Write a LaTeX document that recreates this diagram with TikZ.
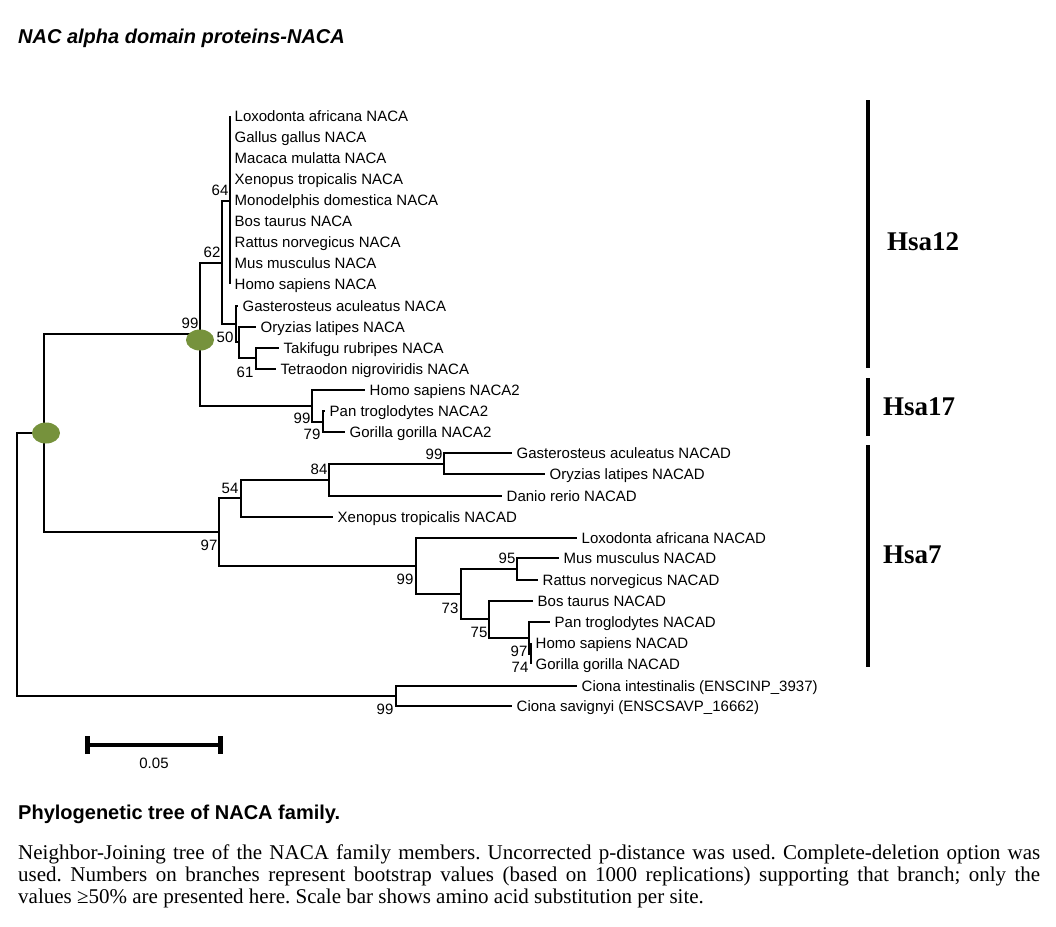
\documentclass[tikz,border=0pt]{standalone}
\usepackage{fontspec}
\setmainfont{Liberation Serif}
\setsansfont{Liberation Sans}
\usepackage{tikz}
\usetikzlibrary{shapes.geometric, arrows.meta, positioning}
\definecolor{hubgreen}{HTML}{76923C}
\newcommand{\leaffont}{\sffamily\fontsize{15}{18}\selectfont}
\tikzset{
    branch/.style = {line width=1.5pt, draw=black},
    leaf/.style = {anchor=west, inner xsep=4.5pt, inner ysep=0pt, text height=11pt, text depth=0pt, font=\leaffont},
    boot/.style = {inner sep=0pt, font=\leaffont},
    hub/.style = {ellipse, fill=hubgreen, minimum width=28pt, minimum height=21pt, inner sep=0pt},
    group/.style = {line width=4pt, draw=black},
    grouplabel/.style = {anchor=west, inner sep=0pt, font=\rmfamily\bfseries\fontsize{27}{30}\selectfont},
    scalebar/.style = {line width=4pt, {Bar[width=18pt, line width=5pt]}-{Bar[width=18pt, line width=5pt]}},
    heading/.style = {anchor=base west, inner sep=0pt, font=\sffamily\bfseries\fontsize{20}{24}\selectfont}
}

\begin{document}
\begin{tikzpicture}[x=1pt, y=-1pt]
        \useasboundingbox (0,0) rectangle (1056,926);

        % Title
        \node (title) [heading, font=\sffamily\bfseries\itshape\fontsize{20}{24}\selectfont] at (18,43) {NAC alpha domain proteins-NACA};

        % Inner nodes of the tree
        \coordinate (root) at (17,564);
        \coordinate (n_a) at (44,433);
        \coordinate (n_b) at (200,334);
        \coordinate (n62) at (222,263);
        \coordinate (n64) at (230,201);
        \coordinate (n50) at (236,324);
        \coordinate (n50b) at (239,342);
        \coordinate (n61) at (256,358);
        \coordinate (n99_naca2) at (312,406);
        \coordinate (n79) at (323,422);
        \coordinate (n97) at (219,532);
        \coordinate (n54) at (241,498);
        \coordinate (n84) at (329,480);
        \coordinate (n99_fish) at (444,464);
        \coordinate (n99_mamm) at (416,566);
        \coordinate (n73) at (461,594);
        \coordinate (n95) at (517,569);
        \coordinate (n75) at (489,619);
        \coordinate (n97b) at (529,638);
        \coordinate (n74) at (531,654);
        \coordinate (n99_ciona) at (396,696);

        % Leaves: NACA (Hsa12)
        \node (loxo_naca) [leaf] at (230,116) {Loxodonta africana NACA};
        \node (gallus_naca) [leaf] at (230,137) {Gallus gallus NACA};
        \node (macaca_naca) [leaf] at (230,158) {Macaca mulatta NACA};
        \node (xeno_naca) [leaf] at (230,179) {Xenopus tropicalis NACA};
        \node (mono_naca) [leaf] at (230,200) {Monodelphis domestica NACA};
        \node (bos_naca) [leaf] at (230,221) {Bos taurus NACA};
        \node (rattus_naca) [leaf] at (230,242) {Rattus norvegicus NACA};
        \node (mus_naca) [leaf] at (230,263) {Mus musculus NACA};
        \node (homo_naca) [leaf] at (230,284) {Homo sapiens NACA};
        \node (gast_naca) [leaf] at (238,306) {Gasterosteus aculeatus NACA};
        \node (oryz_naca) [leaf] at (256,327) {Oryzias latipes NACA};
        \node (taki_naca) [leaf] at (279,348) {Takifugu rubripes NACA};
        \node (tetra_naca) [leaf] at (276,369) {Tetraodon nigroviridis NACA};

        % Leaves: NACA2 (Hsa17)
        \node (homo_naca2) [leaf] at (365,390) {Homo sapiens NACA2};
        \node (pan_naca2) [leaf] at (325,411) {Pan troglodytes NACA2};
        \node (gorilla_naca2) [leaf] at (345,432) {Gorilla gorilla NACA2};

        % Leaves: NACAD (Hsa7)
        \node (gast_nacad) [leaf] at (512,453) {Gasterosteus aculeatus NACAD};
        \node (oryz_nacad) [leaf] at (545,474) {Oryzias latipes NACAD};
        \node (danio_nacad) [leaf] at (502,496) {Danio rerio NACAD};
        \node (xeno_nacad) [leaf] at (333,517) {Xenopus tropicalis NACAD};
        \node (loxo_nacad) [leaf] at (577,538) {Loxodonta africana NACAD};
        \node (mus_nacad) [leaf] at (559,558) {Mus musculus NACAD};
        \node (rattus_nacad) [leaf] at (538,580) {Rattus norvegicus NACAD};
        \node (bos_nacad) [leaf] at (533,601) {Bos taurus NACAD};
        \node (pan_nacad) [leaf] at (550,622) {Pan troglodytes NACAD};
        \node (homo_nacad) [leaf] at (531,643) {Homo sapiens NACAD};
        \node (gorilla_nacad) [leaf] at (531,664) {Gorilla gorilla NACAD};

        % Leaves: outgroup
        \node (ciona_int) [leaf] at (577,686) {Ciona intestinalis (ENSCINP\_3937)};
        \node (ciona_sav) [leaf] at (512,706) {Ciona savignyi (ENSCSAVP\_16662)};

        % Branches
        \draw [branch] (root) |- (n_a);
        \draw [branch] (root) |- (n99_ciona);
        \draw [branch] (n_a) |- (n_b);
        \draw [branch] (n_a) |- (n97);
        \draw [branch] (n_b) |- (n62);
        \draw [branch] (n_b) |- (n99_naca2);
        \draw [branch] (n62) |- (n64);
        \draw [branch] (n62) |- (n50);
        \draw [branch] (n64) |- (loxo_naca.west);
        \draw [branch] (n64) |- (gallus_naca.west);
        \draw [branch] (n64) |- (macaca_naca.west);
        \draw [branch] (n64) |- (xeno_naca.west);
        \draw [branch] (n64) |- (mono_naca.west);
        \draw [branch] (n64) |- (bos_naca.west);
        \draw [branch] (n64) |- (rattus_naca.west);
        \draw [branch] (n64) |- (mus_naca.west);
        \draw [branch] (n64) |- (homo_naca.west);
        \draw [branch] (n50) |- (gast_naca.west);
        \draw [branch] (n50) |- (n50b);
        \draw [branch] (n50b) |- (oryz_naca.west);
        \draw [branch] (n50b) |- (n61);
        \draw [branch] (n61) |- (taki_naca.west);
        \draw [branch] (n61) |- (tetra_naca.west);
        \draw [branch] (n99_naca2) |- (homo_naca2.west);
        \draw [branch] (n99_naca2) |- (n79);
        \draw [branch] (n79) |- (pan_naca2.west);
        \draw [branch] (n79) |- (gorilla_naca2.west);
        \draw [branch] (n97) |- (n54);
        \draw [branch] (n97) |- (n99_mamm);
        \draw [branch] (n54) |- (n84);
        \draw [branch] (n54) |- (xeno_nacad.west);
        \draw [branch] (n84) |- (n99_fish);
        \draw [branch] (n84) |- (danio_nacad.west);
        \draw [branch] (n99_fish) |- (gast_nacad.west);
        \draw [branch] (n99_fish) |- (oryz_nacad.west);
        \draw [branch] (n99_mamm) |- (loxo_nacad.west);
        \draw [branch] (n99_mamm) |- (n73);
        \draw [branch] (n73) |- (n95);
        \draw [branch] (n73) |- (n75);
        \draw [branch] (n95) |- (mus_nacad.west);
        \draw [branch] (n95) |- (rattus_nacad.west);
        \draw [branch] (n75) |- (bos_nacad.west);
        \draw [branch] (n75) |- (n97b);
        \draw [branch] (n97b) |- (pan_nacad.west);
        \draw [branch] (n97b) |- (n74);
        \draw [branch] (n74) |- (homo_nacad.west);
        \draw [branch] (n74) |- (gorilla_nacad.west);
        \draw [branch] (n99_ciona) |- (ciona_int.west);
        \draw [branch] (n99_ciona) |- (ciona_sav.west);

        % Duplication hubs
        \node (hub_root) [hub] at (46,433) {};
        \node (hub_naca) [hub] at (200,340) {};

        % Bootstrap values
        \node (bs_hub) [boot] at (190,323) {99};
        \node (bs_62) [boot] at (212,252) {62};
        \node (bs_64) [boot] at (220,190) {64};
        \node (bs_50) [boot] at (225,337) {50};
        \node (bs_61) [boot] at (245,372) {61};
        \node (bs_naca2) [boot] at (302,418) {99};
        \node (bs_79) [boot] at (312,434) {79};
        \node (bs_84) [boot] at (319,469) {84};
        \node (bs_54) [boot] at (230,488) {54};
        \node (bs_fish) [boot] at (434,454) {99};
        \node (bs_97) [boot] at (209,545) {97};
        \node (bs_mamm) [boot] at (405,579) {99};
        \node (bs_95) [boot] at (507,558) {95};
        \node (bs_73) [boot] at (450,608) {73};
        \node (bs_75) [boot] at (479,632) {75};
        \node (bs_97b) [boot] at (519,651) {97};
        \node (bs_74) [boot] at (520,667) {74};
        \node (bs_ciona) [boot] at (385,709) {99};

        % Chromosome groups
        \coordinate (hsa12_top) at (868,100);
        \coordinate (hsa12_bot) at (868,368);
        \coordinate (hsa17_top) at (868,378);
        \coordinate (hsa17_bot) at (868,436);
        \coordinate (hsa7_top) at (868,445);
        \coordinate (hsa7_bot) at (868,667);
        \draw [group] (hsa12_top) -- (hsa12_bot);
        \draw [group] (hsa17_top) -- (hsa17_bot);
        \draw [group] (hsa7_top) -- (hsa7_bot);
        \node (hsa12) [grouplabel] at (887,242) {Hsa12};
        \node (hsa17) [grouplabel] at (883,407) {Hsa17};
        \node (hsa7) [grouplabel] at (883,555) {Hsa7};

        % Scale bar
        \coordinate (sb_left) at (85,745);
        \coordinate (sb_right) at (223,745);
        \draw [scalebar] (sb_left) -- (sb_right);
        \node (sb_label) [boot] at (154,763) {0.05};

        % Caption
        \node (caption) [heading] at (18,819) {Phylogenetic tree of NACA family.};
        \node (legend) [anchor=north west, inner sep=0pt, text width=1022pt, align=justify,
            font=\rmfamily\fontsize{21}{22}\selectfont] at (18,844)
            {\frenchspacing\hyphenpenalty=10000 \exhyphenpenalty=10000
            Neighbor-Joining tree of the NACA family members. Uncorrected p-distance was used. Complete-deletion option was\linebreak
            used. Numbers on branches represent bootstrap values (based on 1000 replications) supporting that branch; only the\linebreak
            values ≥50\% are presented here. Scale bar shows amino acid substitution per site.};

    \end{tikzpicture}
\end{document}
